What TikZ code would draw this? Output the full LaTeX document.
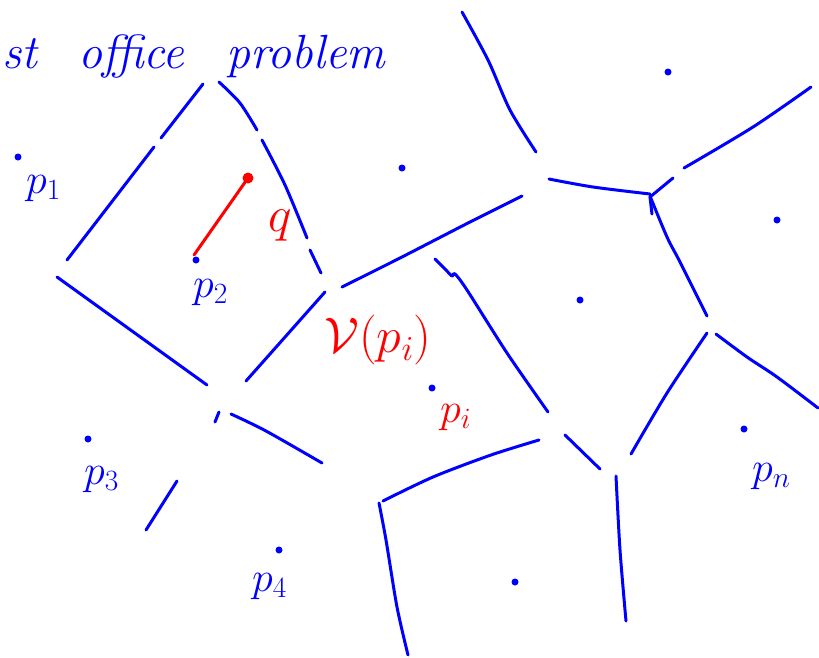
\RequirePackage{fix-cm}
\documentclass[tikz,border=0pt]{standalone}
\usepackage{amsmath}
\begin{document}
\begin{tikzpicture}[x=1pt,y=-1pt,
  edge/.style={blue, line width=3pt, line cap=round, line join=round},
  qline/.style={red, line width=3pt, line cap=round},
  site/.style={circle, fill=blue, inner sep=0pt, minimum size=7pt},
  lbl/.style={blue, inner sep=0pt, anchor=base west, font=\fontsize{42}{46}\selectfont},
  rlbl/.style={red, inner sep=0pt, font=\fontsize{42}{46}\selectfont},
  ttl/.style={blue, inner sep=0pt, anchor=base west, font=\fontsize{48}{52}\selectfont\itshape},
]
\useasboundingbox (0,0) rectangle (819,657);

% title
\node[ttl] (t1) at (2,68) {st};
\node[ttl] (t2) at (78,68) {office};
\node[ttl] (t3) at (226,68) {problem};

% Voronoi edges
\draw[edge] (203,84) -- (161,138);
\draw[edge] (154,147) -- (67,260);
\draw[edge] plot[smooth] coordinates {(219,82) (240,103) (257,130)};
\draw[edge] plot[smooth] coordinates {(262,140) (285,185) (307,238)};
\draw[edge] (310,250) -- (321,273);
\draw[edge] (57,277) -- (207,385);
\draw[edge] (325,292) -- (246,381);
\draw[edge] (219,412) -- (215,422);
\draw[edge] plot[smooth] coordinates {(231,414) (266,431) (322,463)};
\draw[edge] (177,481) -- (146,530);
\draw[edge] plot[smooth] coordinates {(539,440) (491,455) (433,477) (383,501)};
\draw[edge] plot[smooth] coordinates {(379,503) (386,540) (397,607) (408,655)};
\draw[edge] (565,435) -- (600,469);
\draw[edge] plot[smooth] coordinates {(616,476) (620,550) (626,621)};
\draw[edge] plot[smooth] coordinates {(631,454) (667,393) (707,333)};
\draw[edge] plot[smooth] coordinates {(716,334) (747,357) (777,377) (818,408)};
\draw[edge] plot[smooth] coordinates {(435,259) (446,270) (452,276) (455,274) (467,290) (507,353) (548,412)};
\draw[edge] plot[smooth] coordinates {(549,179) (593,187) (650,194)};
\draw[edge] plot[smooth] coordinates {(650,196) (667,237) (680,262) (707,316)};
\draw[edge] (650,197) -- (652,214);
\draw[edge] (650,197) -- (673,178);
\draw[edge] plot[smooth] coordinates {(684,168) (753,127) (811,87)};
\draw[edge] plot[smooth] coordinates {(462,12) (488,60) (510,110) (536,152)};
\draw[edge] plot[smooth] coordinates {(342,287) (400,258) (470,222) (522,196)};

% sites
\node[site] (s1) at (18,157) {};
\node[site] (s2) at (196,260) {};
\node[site] (s3) at (402,168) {};
\node[site] (s4) at (668,72) {};
\node[site] (s5) at (777,220) {};
\node[site] (s6) at (580,300) {};
\node[site] (si) at (432,388) {};
\node[site] (sn) at (744,429) {};
\node[site] (s7) at (88,439) {};
\node[site] (s8) at (279,550) {};
\node[site] (s9) at (515,582) {};

% labels
\node[lbl] (l1) at (26,193) {$p_1$};
\node[lbl] (l2) at (193,297) {$p_2$};
\node[lbl] (l3) at (84,484) {$p_3$};
\node[lbl] (l4) at (252,591) {$p_4$};
\node[lbl] (ln) at (752,481) {$p_n$};
\node[rlbl, anchor=base west] (li) at (440,422) {$p_i$};
\node[rlbl, font=\fontsize{50}{54}\selectfont] (lv) at (378,340) {$\mathcal{V}(p_i)$};
\node[rlbl, anchor=base, font=\fontsize{50}{54}\selectfont] (lq) at (280,231) {$q$};

% query segment
\node[circle, fill=red, inner sep=0pt, minimum size=11pt] (q) at (248,178) {};
\coordinate (qe) at (194,255);
\draw[qline] (q.center) -- (qe);
\end{tikzpicture}
\end{document}
